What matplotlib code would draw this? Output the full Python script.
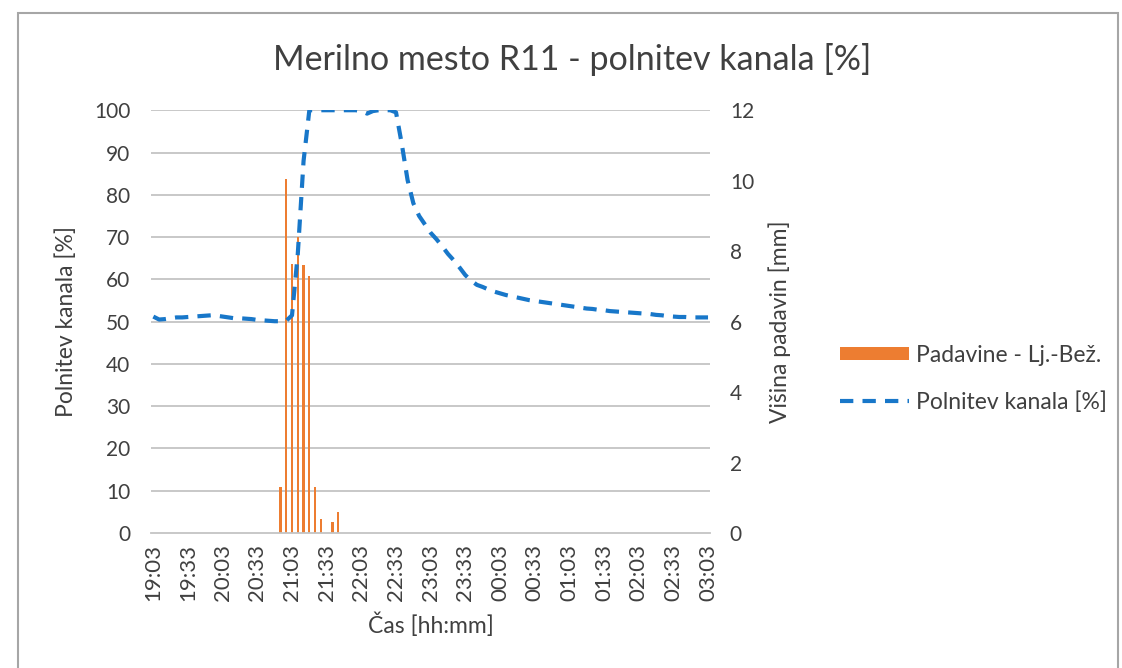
import numpy as np
import matplotlib.pyplot as plt
from matplotlib.patches import Rectangle
from datetime import datetime, timedelta

plt.rcParams['font.family'] = ['Lato', 'DejaVu Sans']

# Time points every 5 minutes, 19:03 -> 03:03
start = datetime(2020, 1, 1, 19, 3)
times = [(start + timedelta(minutes=5 * i)).strftime("%H:%M") for i in range(97)]

# Channel filling [%]
polnitev = [
    51.2, 50.5, 50.6, 50.8, 51.0, 51.0, 51.1, 51.2, 51.3, 51.4,
    51.5, 51.4, 51.2, 51.0, 50.8, 50.8, 50.7, 50.6, 50.4, 50.3,
    50.2, 50.1, 50.1, 50.2, 51.5, 66.0, 88.0, 100.0, 100.0, 100.0,
    100.0, 100.0, 100.0, 100.0, 100.0, 100.0, 99.8, 99.2, 99.8, 100.0,
    100.0, 100.0, 99.5, 92.0, 83.5, 78.0, 75.0, 73.0, 71.0, 69.5,
    67.8, 66.0, 64.5, 62.8, 61.0, 59.7, 58.7, 58.2, 57.6, 57.1,
    56.7, 56.3, 56.0, 55.7, 55.4, 55.1, 54.9, 54.7, 54.5, 54.3,
    54.1, 53.9, 53.7, 53.5, 53.3, 53.1, 53.0, 52.8, 52.7, 52.5,
    52.4, 52.3, 52.2, 52.1, 52.0, 51.9, 51.8, 51.6, 51.5, 51.3,
    51.2, 51.1, 51.1, 51.0, 51.0, 51.0, 51.0,
]

# Rainfall [mm] (non-zero part starts at 20:53)
padavine = [0.0] * 97
rain_start = 22
rain_values = [1.3, 10.05, 7.65, 8.4, 7.6, 7.3, 1.3, 0.4, 0.0, 0.3, 0.6]
for k, v in enumerate(rain_values):
    padavine[rain_start + k] = v

orange = "#ED7D31"
blue = "#1877C9"
grid_col = "#C4C4C4"
txt = "#404040"

x = np.arange(len(times))

fig = plt.figure(figsize=(11.22, 6.68), dpi=100)
ax = fig.add_axes([0.1346, 0.202, 0.4985, 0.633])
ax2 = ax.twinx()

# bars on the secondary axis, line on the primary
ax2.bar(x, padavine, width=0.4, color=orange, label="Padavine - Lj.-Bež.", zorder=2)
ax.plot(x, polnitev, color=blue, linewidth=3, linestyle=(0, (3.2, 2.2)),
        label="Polnitev kanala [%]", zorder=3)
ax.set_zorder(ax2.get_zorder() + 1)
ax.patch.set_visible(False)

ax.set_ylim(0, 100)
ax.set_yticks(np.arange(0, 101, 10))
ax2.set_ylim(0, 12)
ax2.set_yticks(np.arange(0, 13, 2))
ax.set_xlim(-0.4, 96.4)
ax.set_xticks(x[::6])
ax.set_xticklabels(times[::6], rotation=90)

for v in np.arange(10, 101, 10):
    ax2.axhline(v * 0.12, color=grid_col, linewidth=1.3, zorder=0)

for a in (ax, ax2):
    for s in a.spines.values():
        s.set_visible(False)
    a.tick_params(length=0, labelsize=15, colors=txt, pad=15)
ax2.tick_params(pad=14)
ax.spines["bottom"].set_visible(True)
ax.spines["bottom"].set_color(grid_col)
ax.spines["bottom"].set_linewidth(1.3)
ax.tick_params(axis="x", pad=8, labelsize=16)

fig.text(572 / 1122, 1 - 60 / 668, "Merilno mesto R11 - polnitev kanala [%]",
         fontsize=24.5, color=txt, ha="center", va="center")
ax.set_ylabel("Polnitev kanala [%]", fontsize=16.5, color=txt, labelpad=12)
ax2.set_ylabel("Višina padavin [mm]", fontsize=16.5, color=txt, labelpad=10)
ax.set_xlabel("Čas [hh:mm]", fontsize=16.5, color=txt, labelpad=8)

h1, l1 = ax2.get_legend_handles_labels()
h2, l2 = ax.get_legend_handles_labels()
fig.legend(h1 + h2, l1 + l2, loc="center left", bbox_to_anchor=(0.7303, 0.433),
           frameon=False, fontsize=16.5, labelcolor=txt, handlelength=3.0,
           handleheight=0.5, labelspacing=1.1, handletextpad=0.3)

# chart border (bottom edge lies outside the picture)
fig.patches.append(Rectangle((18 / 1122, -0.05), (1118 - 18) / 1122, 1.05 - 13 / 668,
                             transform=fig.transFigure, fill=False,
                             edgecolor="#A6A6A6", linewidth=1.5))

fig.savefig("out.png", dpi=100)
